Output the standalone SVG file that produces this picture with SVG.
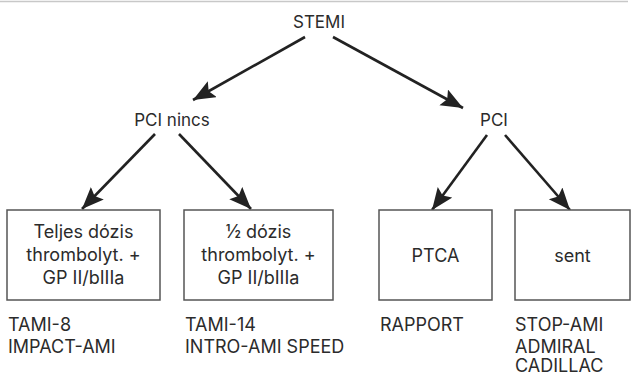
<svg xmlns="http://www.w3.org/2000/svg" width="634" height="376" viewBox="0 0 634 376">
<style>
  text { font-family: Inter, "Open Sans", "Liberation Sans", sans-serif; fill: #2b2b2b; }
  .lbl { font-size: 17px; text-anchor: middle; }
  .box { fill: #ffffff; stroke: #555555; stroke-width: 1.5; }
  .bt { font-size: 18px; text-anchor: middle; }
  .ref { font-size: 18px; text-anchor: start; }
  .conn { stroke: #222222; stroke-width: 2.6; fill: none; marker-end: url(#ah); }
</style>
<defs>
  <marker id="ah" markerUnits="userSpaceOnUse" markerWidth="26" markerHeight="20" refX="22" refY="9" orient="auto">
    <path d="M0,0 L22,9 L0,18 L4,9 z" fill="#222222"/>
  </marker>
</defs>
<rect width="634" height="376" fill="#ffffff"/>
<line x1="0" y1="1.5" x2="628" y2="1.5" stroke="#c8c8c8" stroke-width="1.5"/>

<g id="connectors">
  <line class="conn" x1="305" y1="37" x2="193" y2="100"/>
  <line class="conn" x1="333" y1="37" x2="463" y2="108"/>
  <line class="conn" x1="155" y1="134" x2="82" y2="209"/>
  <line class="conn" x1="179" y1="134" x2="251" y2="209"/>
  <line class="conn" x1="487" y1="135" x2="432" y2="210"/>
  <line class="conn" x1="505" y1="135" x2="570" y2="210"/>
</g>

<g id="stemi"><text class="lbl" x="319" y="28">STEMI</text></g>
<g id="pci-nincs"><text class="lbl" x="172" y="126">PCI nincs</text></g>
<g id="pci"><text class="lbl" x="494" y="126">PCI</text></g>

<g id="box-teljes">
  <rect class="box" x="7" y="210" width="153" height="90"/>
  <text class="bt" x="83.5" y="238">Teljes dózis</text>
  <text class="bt" x="83.5" y="261">thrombolyt. +</text>
  <text class="bt" x="83.5" y="284">GP II/bIIIa</text>
</g>
<g id="box-fel">
  <rect class="box" x="184" y="210" width="149" height="90"/>
  <text class="bt" x="258.5" y="238">½ dózis</text>
  <text class="bt" x="258.5" y="261">thrombolyt. +</text>
  <text class="bt" x="258.5" y="284">GP II/bIIIa</text>
</g>
<g id="box-ptca">
  <rect class="box" x="379" y="210" width="113" height="90"/>
  <text class="bt" x="435.5" y="262">PTCA</text>
</g>
<g id="box-sent">
  <rect class="box" x="515" y="210" width="115" height="90"/>
  <text class="bt" x="572.5" y="262">sent</text>
</g>

<g id="trials-1">
  <text class="ref" x="8" y="331">TAMI-8</text>
  <text class="ref" x="8" y="353">IMPACT-AMI</text>
</g>
<g id="trials-2">
  <text class="ref" x="185" y="331">TAMI-14</text>
  <text class="ref" x="185" y="353">INTRO-AMI SPEED</text>
</g>
<g id="trials-3">
  <text class="ref" x="380" y="331">RAPPORT</text>
</g>
<g id="trials-4">
  <text class="ref" x="515" y="331">STOP-AMI</text>
  <text class="ref" x="515" y="353">ADMIRAL</text>
  <text class="ref" x="515" y="372">CADILLAC</text>
</g>
</svg>
